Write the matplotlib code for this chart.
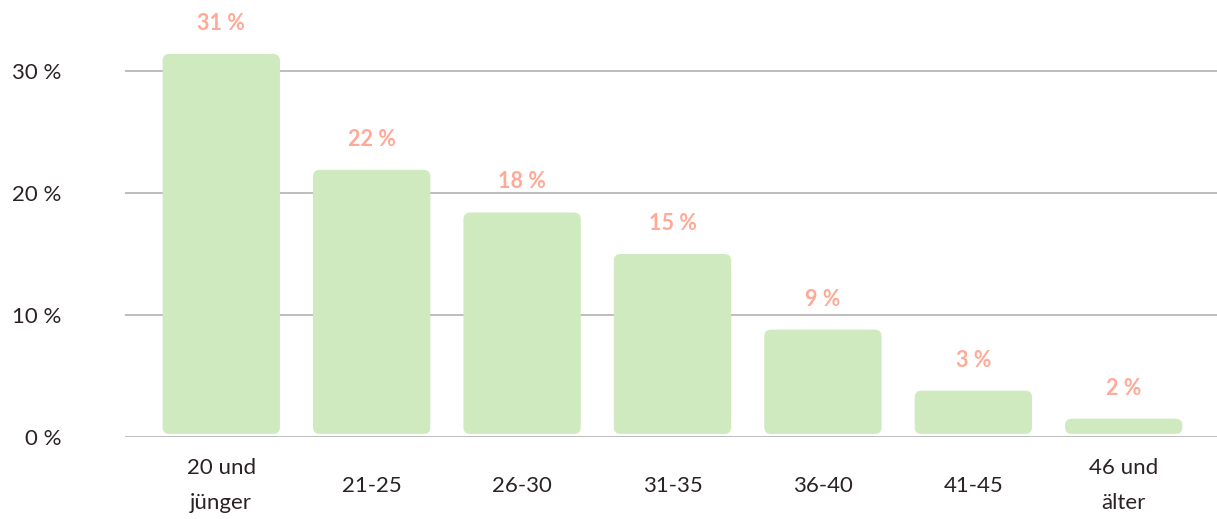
import matplotlib
matplotlib.use("Agg")
import matplotlib.pyplot as plt
from matplotlib.patches import FancyBboxPatch

categories = ["20 und\njünger", "21-25", "26-30", "31-35", "36-40", "41-45", "46 und\nälter"]
values = [31.4, 21.9, 18.4, 15.0, 8.8, 3.8, 1.5]
value_labels = ["31 %", "22 %", "18 %", "15 %", "9 %", "3 %", "2 %"]
yticks = [0, 10, 20, 30]
ytick_labels = ["0 %", "10 %", "20 %", "30 %"]

bar_color = "#cfeabf"
label_color = "#ffa996"
text_color = "#2b2227"
grid_color = "#ababab"

plt.rcParams["font.family"] = ["Lato", "DejaVu Sans"]

fig = plt.figure(figsize=(12.17, 5.19), dpi=100)
ax = fig.add_axes([125 / 1217, 82 / 519, 1 - 125 / 1217, 0.80])
ax.set_xlim(-0.64, 6.62)
ax.set_ylim(0, 0.80 * 519 / 12.2)

for y in yticks:
    ax.axhline(y, color=grid_color, lw=1.1, zorder=1)

w = 0.78
gap = 0.25
for i, v in enumerate(values):
    box = FancyBboxPatch((i - w / 2, gap), w, v - gap,
                         boxstyle="round,pad=0,rounding_size=0.045",
                         mutation_aspect=12.3,
                         fc=bar_color, ec="none", zorder=2)
    ax.add_patch(box)
    ax.annotate(value_labels[i], (i, v), xytext=(0, 22), textcoords="offset points",
                ha="center", va="center", fontsize=15.5, fontweight="bold",
                color=label_color)

ax.set_yticks(yticks)
ax.set_yticklabels(ytick_labels, fontsize=16, color=text_color)
ax.set_xticks(range(len(categories)))
ax.set_xticklabels(categories, fontsize=16, color=text_color, linespacing=1.95)
for t in ax.get_xticklabels():
    t.set_va("center")
ax.tick_params(axis="x", length=0, pad=35)
ax.tick_params(axis="y", length=0, pad=46)

for s in ax.spines.values():
    s.set_visible(False)

fig.savefig("out.png", dpi=100)
